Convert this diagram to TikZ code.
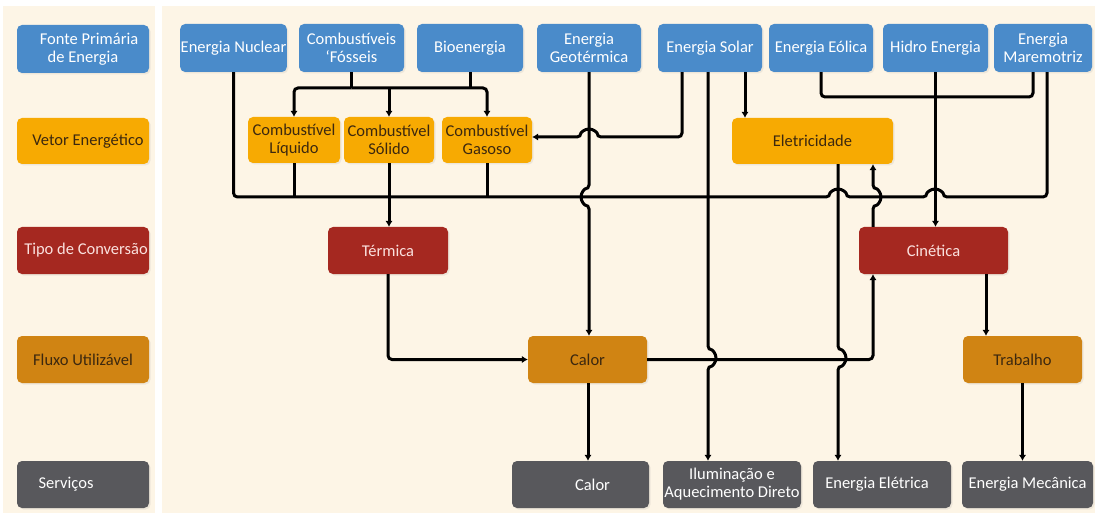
\documentclass[tikz,border=0pt]{standalone}
\usepackage{fontspec}
\setmainfont{Carlito}
\usepackage{tikz}
\usetikzlibrary{positioning,arrows.meta,shadows}
\usepackage{xcolor}

\definecolor{fundo}{RGB}{253,245,230}
\definecolor{azul}{RGB}{74,139,202}
\definecolor{ambar}{RGB}{247,170,2}
\definecolor{vermelho}{RGB}{165,40,32}
\definecolor{ocre}{RGB}{208,132,19}
\definecolor{cinza}{RGB}{88,88,92}
\definecolor{escuro}{RGB}{60,40,15}
\definecolor{rosado}{RGB}{250,225,222}

\begin{document}
\begin{tikzpicture}[x=1pt, y=-1pt,
    caixa/.style={rounded corners=5pt, inner sep=0.5pt, align=center,
        font=\fontsize{16.5}{18}\selectfont,
        drop shadow={opacity=0.12, shadow xshift=1.5pt, shadow yshift=-1.5pt}},
    fonte/.style={caixa, fill=azul, text=white, minimum height=48pt},
    vetor/.style={caixa, fill=ambar, text=escuro, minimum height=46pt},
    conv/.style={caixa, fill=vermelho, text=rosado, minimum height=47pt},
    fluxo/.style={caixa, fill=ocre, text=escuro, minimum height=47pt},
    serv/.style={caixa, fill=cinza, text=white, minimum height=47pt},
    conn/.style={line width=3pt, rounded corners=4pt},
    arr/.style={conn, -{Latex[length=6pt, width=7.5pt]}}]

        % Fundo
        \fill[white] (0,0) rectangle (1095,513);
        \fill[fundo] (3,6) rectangle (155,513);
        \fill[fundo] (162,6) rectangle (1095,513);
        \useasboundingbox (0,0) rectangle (1095,513);

        % Coluna da esquerda
        \node[fonte, minimum width=132pt] (l1) at (83,49)    {\hspace{12pt}Fonte Primária\\de Energia};
        \node[vetor, minimum width=132pt] (l2) at (83,141)   {\hspace{10pt}Vetor Energético};
        \node[conv,  minimum width=132pt] (l3) at (83,250.5) {\hspace{6pt}Tipo de Conversão};
        \node[fluxo, minimum width=132pt] (l4) at (83,359.5) {Fluxo Utilizável};
        \node[serv,  minimum width=132pt] (l5) at (83,484.5) {Serviços\hspace{34pt}};

        % Fontes primarias
        \node[fonte, minimum width=105pt] (nuclear) at (233.5,48) {Energia Nuclear};
        \node[fonte, minimum width=105pt] (fosseis) at (351.5,48) {Combustíveis\\‘Fósseis};
        \node[fonte, minimum width=106pt] (bio)     at (470,48)   {Bioenergia};
        \node[fonte, minimum width=104pt] (geo)     at (589,48)   {Energia\\Geotérmica};
        \node[fonte, minimum width=104pt] (solar)   at (710,48)   {Energia Solar};
        \node[fonte, minimum width=104pt] (eolica)  at (821,48)   {Energia Eólica};
        \node[fonte, minimum width=105pt] (hidro)   at (935.5,48) {Hidro Energia};
        \node[fonte, minimum width=98pt]  (mare)    at (1043,48)  {Energia\\Maremotriz};

        % Vetores
        \node[vetor, minimum width=92pt]  (liquido) at (294,140)   {Combustível\\Líquido};
        \node[vetor, minimum width=90pt]  (solido)  at (389,140)   {Combustível\\Sólido};
        \node[vetor, minimum width=90pt]  (gasoso)  at (487,140)   {Combustível\\Gasoso};
        \node[vetor, minimum width=161pt] (eletr)   at (812.5,141) {Eletricidade};

        % Conversao
        \node[conv, minimum width=120pt] (termica)  at (388,250.5)   {Térmica};
        \node[conv, minimum width=149pt] (cinetica) at (933.5,250.5) {Cinética};

        % Fluxo
        \node[fluxo, minimum width=119pt] (calorf)   at (587.5,359.5)  {Calor};
        \node[fluxo, minimum width=119pt] (trabalho) at (1022.5,359.5) {Trabalho};

        % Servicos
        \node[serv, minimum width=137pt] (calors)   at (580.5,484.5) {\hspace{24pt}Calor};
        \node[serv, minimum width=138pt] (ilum)     at (732,484.5)   {Iluminação e\\Aquecimento Direto};
        \node[serv, minimum width=138pt] (eletrica) at (882,484.5)   {Energia Elétrica\hspace{10pt}};
        \node[serv, minimum width=131pt] (mecanica) at (1027.5,484.5) {Energia Mecânica};

        % Combustiveis
        \draw[conn] (fosseis.south) -- (fosseis.south |- 0,88);
        \draw[conn] (bio.south) -- (bio.south |- 0,88);
        \draw[arr] (fosseis.south |- 0,88) -| (liquido.north);
        \draw[arr] (fosseis.south |- 0,88) -| (gasoso.north);
        \draw[arr] (solido.north |- 0,88) -- (solido.north);

        % Barramento termico
        \draw[conn] (nuclear.south) |- (830,197) arc[start angle=180, end angle=0, radius=8pt]
            -- (927,197) arc[start angle=180, end angle=0, radius=8pt] -| ([xshift=4pt]mare.south);
        \draw[conn] (liquido.south) -- (liquido.south |- 0,197);
        \draw[conn] (gasoso.south) -- (gasoso.south |- 0,197);
        \draw[arr] (solido.south) -- (solido.south |- termica.north);

        % Geotermica e solar
        \draw[arr] (geo.south) -- (geo.south |- 0,189) arc[start angle=90, end angle=270, radius=8pt]
            -- (geo.south |- calorf.north);
        \draw[arr] ([xshift=-28pt]solar.south) |- (597,137) arc[start angle=0, end angle=180, radius=8pt]
            -- (gasoso.east |- 0,137);
        \draw[arr] ([xshift=-2pt]solar.south) -- (708,350) arc[start angle=90, end angle=-90, radius=8pt]
            -- (ilum.north -| 708,0);
        \draw[arr] ([xshift=35pt]solar.south) -- ([xshift=35pt]solar.south |- eletr.north);

        % Eolica, hidro e maremotriz
        \draw[conn] (eolica.south) |- ([xshift=-10pt]mare.south |- 0,97) -- ([xshift=-10pt]mare.south);
        \draw[arr] (hidro.south) -- (hidro.south |- cinetica.north);

        % Eletricidade
        \draw[arr] (eletr.south -| 838,0) -- (838,350) arc[start angle=90, end angle=-90, radius=8pt]
            -- (eletrica.north -| 838,0);
        \draw[arr] (cinetica.north -| 873,0) -- (873,205) arc[start angle=-90, end angle=90, radius=8pt]
            -- (eletr.south -| 873,0);

        % Calor e trabalho
        \draw[arr] (termica.south) |- (calorf.west);
        \draw[arr] (calorf.east) -| (cinetica.south -| 873,0);
        \draw[arr] (calorf.south -| 588,0) -- (calors.north -| 588,0);
        \draw[arr] (cinetica.south -| 986,0) -- (trabalho.north -| 986,0);
        \draw[arr] (trabalho.south) -- (trabalho.south |- mecanica.north);
\end{tikzpicture}
\end{document}
